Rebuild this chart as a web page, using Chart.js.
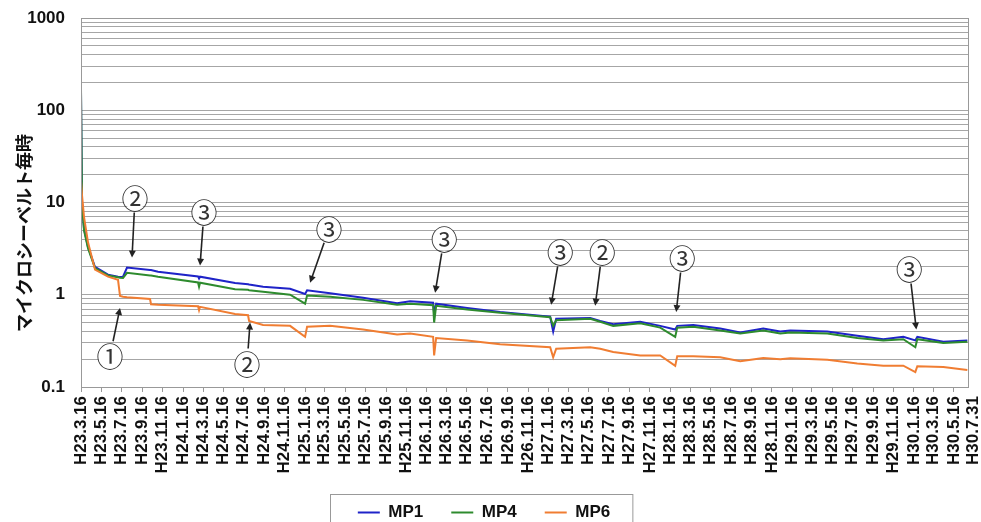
<!DOCTYPE html>
<html>
<head>
<meta charset="utf-8">
<script src="https://cdn.jsdelivr.net/npm/chart.js@4.4.1/dist/chart.umd.min.js"></script>
<style>
html, body { margin: 0; padding: 0; background: #fff; }
</style>
</head>
<body>
<canvas id="chart" width="981" height="522"></canvas>
<script>
// days counted from H23.3.16 (2011-03-16)
var days = [0, 3, 9, 21, 42, 81, 111, 117, 126, 138, 207, 210, 231, 351, 354, 357, 462, 501, 504, 546,
    627, 672, 678, 747, 846, 948, 987, 1056, 1059, 1065, 1158, 1257, 1407, 1416, 1425, 1527, 1557, 1596, 1677, 1737,
    1782, 1788, 1836, 1917, 1977, 2046, 2097, 2127, 2238, 2328, 2406, 2466, 2502, 2508, 2586, 2658];
var mp1 = [160, 10, 5.2, 3.3, 2.0, 1.65, 1.57, 1.56, 1.57, 1.97, 1.85, 1.85, 1.78, 1.58, 1.50, 1.57, 1.34, 1.30, 1.29, 1.22,
    1.16, 1.02, 1.12, 1.04, 0.93, 0.81, 0.85, 0.82, 0.62, 0.80, 0.72, 0.65, 0.58, 0.40, 0.55, 0.56, 0.52, 0.48, 0.51, 0.46,
    0.42, 0.46, 0.47, 0.43, 0.39, 0.43, 0.40, 0.41, 0.40, 0.36, 0.33, 0.35, 0.32, 0.35, 0.31, 0.32];
var mp4 = [170, 10, 5.0, 3.2, 1.95, 1.62, 1.55, 1.53, 1.52, 1.73, 1.62, 1.62, 1.57, 1.36, 1.22, 1.35, 1.15, 1.13, 1.12, 1.08,
    1.00, 0.80, 0.98, 0.95, 0.88, 0.78, 0.80, 0.77, 0.50, 0.76, 0.69, 0.64, 0.57, 0.46, 0.53, 0.55, 0.51, 0.46, 0.49, 0.44,
    0.35, 0.44, 0.45, 0.41, 0.38, 0.41, 0.38, 0.39, 0.38, 0.34, 0.32, 0.33, 0.27, 0.33, 0.30, 0.31];
var mp6 = [17, 12, 7.0, 3.7, 1.87, 1.57, 1.45, 0.97, 0.95, 0.94, 0.90, 0.79, 0.78, 0.75, 0.68, 0.74, 0.62, 0.60, 0.52, 0.47,
    0.46, 0.35, 0.45, 0.46, 0.42, 0.37, 0.38, 0.35, 0.22, 0.34, 0.32, 0.29, 0.27, 0.21, 0.26, 0.27, 0.26, 0.24, 0.22, 0.22,
    0.17, 0.215, 0.215, 0.21, 0.19, 0.206, 0.20, 0.205, 0.197, 0.18, 0.17, 0.17, 0.145, 0.168, 0.165, 0.153];

var tickLabels = ["H23.3.16", "H23.5.16", "H23.7.16", "H23.9.16", "H23.11.16",
    "H24.1.16", "H24.3.16", "H24.5.16", "H24.7.16", "H24.9.16", "H24.11.16",
    "H25.1.16", "H25.3.16", "H25.5.16", "H25.7.16", "H25.9.16", "H25.11.16",
    "H26.1.16", "H26.3.16", "H26.5.16", "H26.7.16", "H26.9.16", "H26.11.16",
    "H27.1.16", "H27.3.16", "H27.5.16", "H27.7.16", "H27.9.16", "H27.11.16",
    "H28.1.16", "H28.3.16", "H28.5.16", "H28.7.16", "H28.9.16", "H28.11.16",
    "H29.1.16", "H29.3.16", "H29.5.16", "H29.7.16", "H29.9.16", "H29.11.16",
    "H30.1.16", "H30.3.16", "H30.5.16"];
var endLabel = "H30.7.31";
var yLabels = [0.1, 1, 10, 100, 1000];

// circled notes: label position and arrow tip, in (day, value)
var notes = [
    {text: "②", day: 162, v: 11.3, tipDay: 153, tipV: 2.53},
    {text: "③", day: 369, v: 7.97, tipDay: 357, tipV: 2.07},
    {text: "③", day: 744, v: 5.2, tipDay: 687, tipV: 1.35},
    {text: "③", day: 1089, v: 4.06, tipDay: 1062, tipV: 1.05},
    {text: "③", day: 1437, v: 2.93, tipDay: 1410, tipV: 0.78},
    {text: "②", day: 1563, v: 2.93, tipDay: 1542, tipV: 0.76},
    {text: "③", day: 1803, v: 2.53, tipDay: 1785, tipV: 0.65},
    {text: "③", day: 2484, v: 1.92, tipDay: 2505, tipV: 0.42},
    {text: "①", day: 87, v: 0.217, tipDay: 117, tipV: 0.72},
    {text: "②", day: 498, v: 0.18, tipDay: 507, tipV: 0.50}
];

var lastDay = 2660;
var tickFont = {family: "'Liberation Sans', Arial, sans-serif", size: 17, weight: "bold"};

function heiseiDay(s) {
    var p = s.substring(1).split(".");
    var t = Date.UTC(1988 + Number(p[0]), Number(p[1]) - 1, Number(p[2]));
    return Math.round((t - Date.UTC(2011, 2, 16)) / 864e5);
}

function points(vals) {
    return days.map(function(d, i) { return {x: d, y: vals[i]}; });
}

var notePlugin = {
    id: "notes",
    afterDatasetsDraw: function(chart) {
        var ctx = chart.ctx;
        var xs = chart.scales.x, ys = chart.scales.y;
        ctx.save();
        notes.forEach(function(n) {
            var cx = xs.getPixelForValue(n.day), cy = ys.getPixelForValue(n.v);
            var tx = xs.getPixelForValue(n.tipDay), ty = ys.getPixelForValue(n.tipV);
            var dx = tx - cx, dy = ty - cy;
            var len = Math.sqrt(dx * dx + dy * dy);
            var ux = dx / len, uy = dy / len;
            var sx = cx + ux * 15, sy = cy + uy * 15;
            ctx.strokeStyle = "#222";
            ctx.fillStyle = "#222";
            ctx.lineWidth = 1.6;
            ctx.beginPath();
            ctx.moveTo(sx, sy);
            ctx.lineTo(tx - ux * 5, ty - uy * 5);
            ctx.stroke();
            ctx.beginPath();
            ctx.moveTo(tx, ty);
            ctx.lineTo(tx - ux * 7 - uy * 3.5, ty - uy * 7 + ux * 3.5);
            ctx.lineTo(tx - ux * 7 + uy * 3.5, ty - uy * 7 - ux * 3.5);
            ctx.closePath();
            ctx.fill();
            ctx.fillStyle = "#fff";
            ctx.beginPath();
            ctx.arc(cx, cy, 12, 0, Math.PI * 2);
            ctx.fill();
            ctx.fillStyle = "#333";
            ctx.font = "27px 'Noto Sans CJK JP'";
            ctx.textAlign = "center";
            ctx.textBaseline = "middle";
            ctx.fillText(n.text, cx, cy + 1);
        });
        ctx.restore();
    },
    afterDraw: function(chart) {
        var ctx = chart.ctx;
        var a = chart.chartArea;
        ctx.save();
        ctx.strokeStyle = "#999";
        ctx.lineWidth = 1;
        ctx.strokeRect(a.left + 0.5, a.top + 0.5, a.right - a.left, a.bottom - a.top);
        // last date, set apart at the right end as in the original
        ctx.fillStyle = "#111";
        ctx.font = "bold 17px 'Liberation Sans', Arial, sans-serif";
        ctx.textAlign = "right";
        ctx.textBaseline = "middle";
        ctx.save();
        ctx.translate(a.right + 5, a.bottom + 9);
        ctx.rotate(-Math.PI / 2);
        ctx.fillText(endLabel, 0, 0);
        ctx.restore();
        // y axis title
        ctx.font = "bold 18px 'Noto Sans CJK JP'";
        ctx.textAlign = "center";
        ctx.translate(24, 233);
        ctx.rotate(-Math.PI / 2);
        ctx.fillText("マイクロシーベルト毎時", 0, 0);
        ctx.restore();
        // legend frame
        var hb = chart.legend.legendHitBoxes;
        if (hb && hb.length) {
            var l = hb[0].left - 28;
            var r = hb[hb.length - 1].left + hb[hb.length - 1].width + 22;
            var t = hb[0].top - 10;
            ctx.save();
            ctx.strokeStyle = "#999";
            ctx.lineWidth = 1;
            ctx.strokeRect(Math.round(l) + 0.5, Math.round(t) + 0.5, r - l, 60);
            ctx.restore();
        }
    }
};

new Chart(document.getElementById("chart"), {
    type: "line",
    data: {
        datasets: [
            {label: "MP1", data: points(mp1), borderColor: "#1f23c8", backgroundColor: "#1f23c8", borderWidth: 2, pointRadius: 0, order: 2},
            {label: "MP4", data: points(mp4), borderColor: "#2e8b2e", backgroundColor: "#2e8b2e", borderWidth: 2, pointRadius: 0, order: 1},
            {label: "MP6", data: points(mp6), borderColor: "#f07d32", backgroundColor: "#f07d32", borderWidth: 2, pointRadius: 0, order: 0}
        ]
    },
    options: {
        responsive: false,
        animation: false,
        devicePixelRatio: 1,
        layout: {padding: {top: 18, right: 13, bottom: 0, left: 0}},
        plugins: {
            tooltip: {enabled: false},
            legend: {
                position: "bottom",
                maxHeight: 46,
                labels: {
                    usePointStyle: true,
                    pointStyle: "line",
                    pointStyleWidth: 22,
                    padding: 28,
                    color: "#111",
                    font: tickFont,
                    sort: function(a, b) { return a.datasetIndex - b.datasetIndex; }
                }
            }
        },
        scales: {
            x: {
                type: "linear",
                min: 0,
                max: lastDay,
                afterBuildTicks: function(scale) {
                    scale.ticks = tickLabels.map(function(s) { return {value: heiseiDay(s)}; });
                },
                afterFit: function(scale) {
                    scale.height = 89;
                    scale.paddingLeft = 0;
                    scale.paddingRight = 0;
                },
                grid: {drawOnChartArea: false, drawTicks: true, tickLength: 5, color: "#999"},
                border: {color: "#999"},
                ticks: {
                    autoSkip: false,
                    minRotation: 90,
                    maxRotation: 90,
                    padding: 4,
                    color: "#111",
                    font: tickFont,
                    callback: function(v, i) { return tickLabels[i]; }
                }
            },
            y: {
                type: "logarithmic",
                min: 0.1,
                max: 1000,
                afterBuildTicks: function(scale) {
                    var t = [];
                    for (var k = -1; k < 3; k++) {
                        for (var m = 1; m < 10; m++) {
                            t.push({value: Number((m * Math.pow(10, k)).toPrecision(3))});
                        }
                    }
                    t.push({value: 1000});
                    scale.ticks = t;
                },
                afterFit: function(scale) {
                    scale.width = 81;
                    scale.paddingTop = 0;
                    scale.paddingBottom = 0;
                },
                grid: {color: "#a6a6a6", lineWidth: 1, drawTicks: false},
                border: {color: "#999"},
                ticks: {
                    autoSkip: false,
                    padding: 16,
                    color: "#111",
                    font: tickFont,
                    callback: function(v) { return yLabels.indexOf(v) >= 0 ? String(v) : ""; }
                }
            }
        }
    },
    plugins: [notePlugin]
});
</script>
</body>
</html>
